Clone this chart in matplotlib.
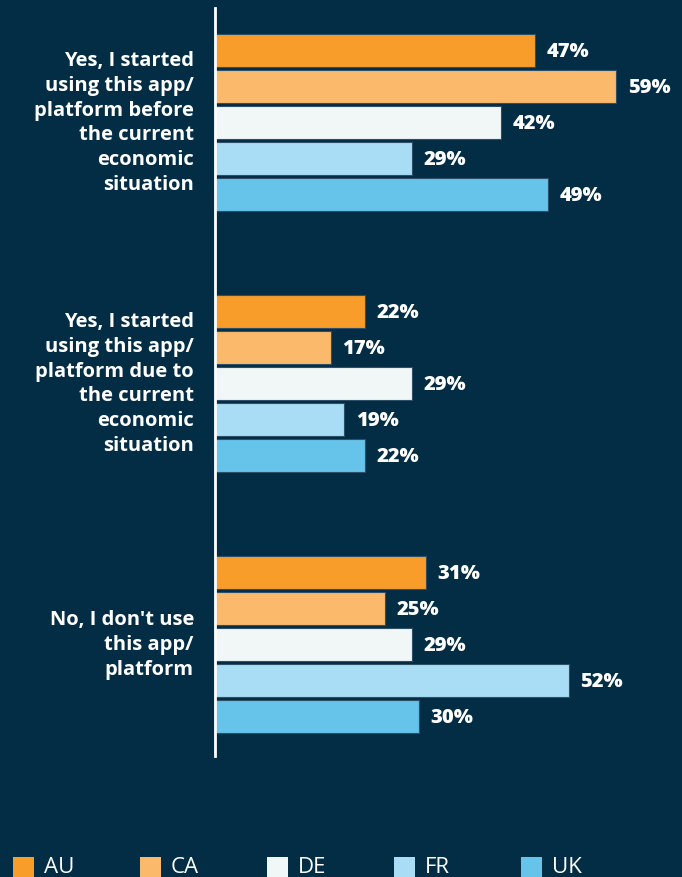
import matplotlib
matplotlib.use("Agg")
import matplotlib.pyplot as plt
from matplotlib.patches import Rectangle

categories = [
    "Yes, I started\nusing this app/\nplatform before\nthe current\neconomic\nsituation",
    "Yes, I started\nusing this app/\nplatform due to\nthe current\neconomic\nsituation",
    "No, I don't use\nthis app/\nplatform",
]
countries = ["AU", "CA", "DE", "FR", "UK"]
values = {
    "AU": [47, 22, 31],
    "CA": [59, 17, 25],
    "DE": [42, 29, 29],
    "FR": [29, 19, 52],
    "UK": [49, 22, 30],
}
colors = {
    "AU": "#F99D2A",
    "CA": "#FBBA6B",
    "DE": "#F1F6F6",
    "FR": "#A8DDF5",
    "UK": "#66C3EA",
}

BG = "#032C45"
W, H = 682, 878
fig = plt.figure(figsize=(W / 100, H / 100), dpi=100, facecolor=BG)

# plot area in pixels: x from 215 to right edge, y from 9 to 757
left, top, bottom = 215, 9, 757
ax = fig.add_axes([left / W, 1 - bottom / H, (W - left) / W, (bottom - top) / H])
ax.set_facecolor(BG)

group_gap = 261
bar_gap = 36
bar_h = 33
first_center = 51 - top

ax.set_ylim(bottom - top, 0)
ax.set_xlim(0, (W - left) / 6.8)

for gi, cat in enumerate(categories):
    for bi, c in enumerate(countries):
        y = first_center + gi * group_gap + bi * bar_gap
        v = values[c][gi]
        ax.barh(y, v, height=bar_h, color=colors[c], edgecolor="#2d5068",
                linewidth=0.8, left=0)
        ax.text(v + 1.7, y + 1, f"{v}%", va="center", ha="left", color="white",
                fontsize=14.5, fontweight=800, family="Open Sans")
    gc = first_center + gi * group_gap + 2 * bar_gap
    ax.text(-3.1, gc, cat, ha="right", va="center", color="white",
            fontsize=14.5, fontweight="bold", family="Open Sans",
            linespacing=1.33, multialignment="right")

for s in ["top", "right", "bottom"]:
    ax.spines[s].set_visible(False)
ax.spines["left"].set_color("white")
ax.spines["left"].set_linewidth(2)
ax.set_xticks([])
ax.set_yticks([])

# legend row along the bottom edge
leg_x0, leg_step = 13, 127
for i, c in enumerate(countries):
    x = leg_x0 + i * leg_step
    fig.patches.append(Rectangle((x / W, 0), 21 / W, 20 / H,
                                 transform=fig.transFigure,
                                 facecolor=colors[c], edgecolor="none"))
    fig.text((x + 31) / W, 1 - 868 / H, c, ha="left", va="center",
             color="white", fontsize=16, family="Open Sans")

fig.savefig("out.png", dpi=100, facecolor=BG)
